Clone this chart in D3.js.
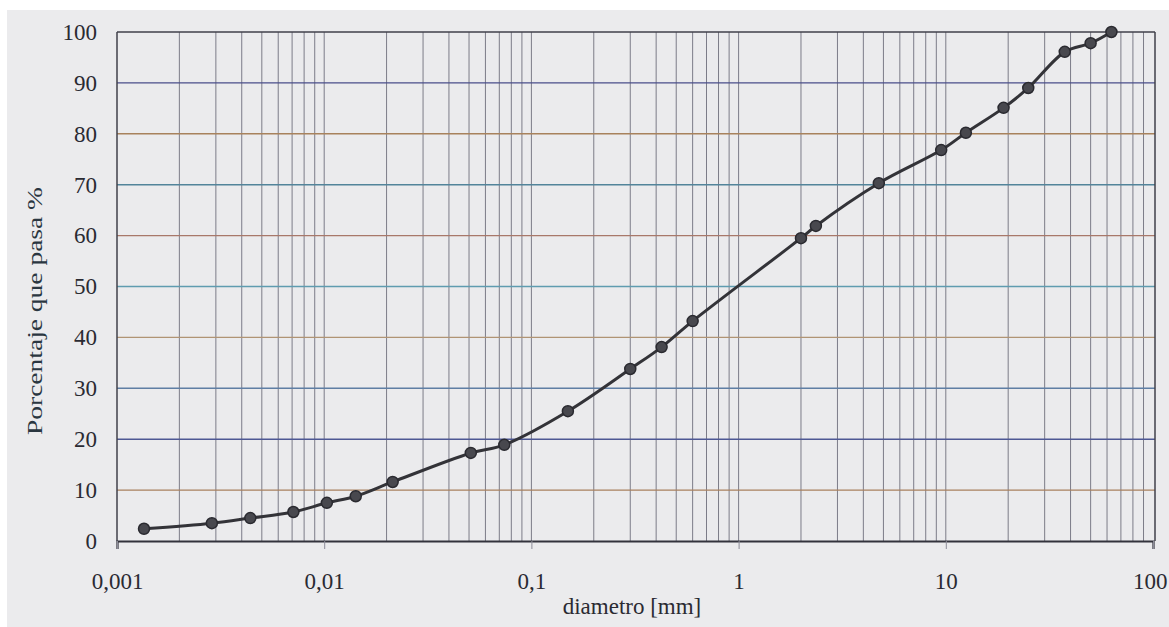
<!DOCTYPE html>
<html>
<head>
<meta charset="utf-8">
<script src="https://cdn.jsdelivr.net/npm/d3@7"></script>
<style>
  html, body { margin: 0; padding: 0; background: #ffffff; }
  svg { display: block; }
</style>
</head>
<body>
<svg id="chart" width="1169" height="627"></svg>
<script>
// ---- data ----
const diameters = [0.00135, 0.00287, 0.0044, 0.0071, 0.0103, 0.0142, 0.0214, 0.051, 0.074, 0.15, 0.3, 0.425, 0.6, 2.0, 2.36, 4.75, 9.5, 12.5, 19, 25, 37.5, 50, 63];
const percentPassing = [2.4, 3.5, 4.5, 5.7, 7.5, 8.8, 11.6, 17.3, 18.9, 25.5, 33.8, 38.1, 43.2, 59.5, 61.9, 70.3, 76.8, 80.2, 85.1, 89.0, 96.1, 97.8, 100];
const xTicks = [0.001, 0.01, 0.1, 1, 10, 100];
const xTickLabels = ["0,001", "0,01", "0,1", "1", "10", "100"];
const yTicks = [0, 10, 20, 30, 40, 50, 60, 70, 80, 90, 100];
const gridColors = ["#3a3a44", "#a8805e", "#4e5894", "#5f7ea4", "#b09474", "#5f9cb0", "#a8786a", "#52849a", "#a8825c", "#4a4e8a", "#3c3c48"];
const xTitle = "diametro [mm]";
const yTitle = "Porcentaje que pasa %";

// ---- layout ----
const svg = d3.select("#chart");
const W = 1169, H = 627;
const plot = { left: 117, right: 1155, top: 32, bottom: 541 };
const serif = "Liberation Serif, Times New Roman, serif";

svg.append("rect").attr("x", 0).attr("y", 0).attr("width", W).attr("height", H).attr("fill", "#ffffff");
svg.append("rect").attr("x", 7).attr("y", 10).attr("width", W - 7).attr("height", H - 10).attr("fill", "#ebebed");

const x = d3.scaleLog().domain([0.001, 100]).range([plot.left, 1153]);
const y = d3.scaleLinear().domain([0, 100]).range([plot.bottom, plot.top]);

// vertical grid (minor + major)
const minor = [];
for (let e = -3; e < 2; e++) {
  for (let m = 1; m <= 9; m++) {
    const v = m * Math.pow(10, e);
    if (v > 0.001) minor.push(v);
  }
}
svg.append("g").selectAll("line").data(minor).join("line")
  .attr("x1", d => x(d)).attr("x2", d => x(d))
  .attr("y1", plot.top).attr("y2", plot.bottom)
  .attr("stroke", "#7c7c88").attr("stroke-width", 1);

// horizontal grid
svg.append("g").selectAll("line").data(yTicks.filter(d => d > 0 && d < 100)).join("line")
  .attr("x1", plot.left).attr("x2", plot.right)
  .attr("y1", d => y(d)).attr("y2", d => y(d))
  .attr("stroke", (d, i) => gridColors[i + 1]).attr("stroke-width", 1.4);

// frame
svg.append("line").attr("x1", plot.left).attr("x2", plot.right).attr("y1", plot.top).attr("y2", plot.top)
  .attr("stroke", "#40404a").attr("stroke-width", 1.5);
svg.append("line").attr("x1", plot.right).attr("x2", plot.right).attr("y1", plot.top).attr("y2", plot.bottom)
  .attr("stroke", "#40404a").attr("stroke-width", 1.5);
svg.append("line").attr("x1", plot.left).attr("x2", plot.left).attr("y1", plot.top).attr("y2", plot.bottom)
  .attr("stroke", "#40404a").attr("stroke-width", 1.5);

// x axis
const xAxis = d3.axisBottom(x).tickValues(xTicks).tickFormat((d, i) => xTickLabels[i]).tickSize(8).tickPadding(24);
const gx = svg.append("g").attr("transform", `translate(0,${plot.bottom})`).call(xAxis);
gx.select(".domain").attr("stroke", "#33333c").attr("stroke-width", 2.2);
gx.selectAll(".tick line").attr("stroke", "#8c8c98").attr("stroke-width", 1);
gx.selectAll(".tick text").attr("font-family", serif)
  .attr("font-size", 23).attr("fill", "#2a2a32");
// keep the last label inside the page edge
gx.selectAll(".tick text").filter(d => d === 100).attr("text-anchor", "end").attr("dx", 14);

// y axis
const yAxis = d3.axisLeft(y).tickValues(yTicks).tickSize(0).tickPadding(20);
const gy = svg.append("g").attr("transform", `translate(${plot.left},0)`).call(yAxis);
gy.select(".domain").remove();
gy.selectAll(".tick text").attr("font-family", serif)
  .attr("font-size", 23).attr("fill", "#2a2a32");

// titles
svg.append("text").attr("x", 632).attr("y", 614).attr("text-anchor", "middle")
  .attr("font-family", serif).attr("font-size", 23)
  .attr("fill", "#2a2a32").text(xTitle);
svg.append("text").attr("transform", "translate(42,311) rotate(-90)").attr("text-anchor", "middle")
  .attr("font-family", serif).attr("font-size", 22)
  .attr("textLength", 248).attr("lengthAdjust", "spacingAndGlyphs")
  .attr("fill", "#2a3640").text(yTitle);

// curve
const pts = diameters.map((d, i) => [d, percentPassing[i]]);
const line = d3.line().x(d => x(d[0])).y(d => y(d[1])).curve(d3.curveCatmullRom.alpha(0.5));
svg.append("path").datum(pts).attr("d", line).attr("fill", "none")
  .attr("stroke", "#333338").attr("stroke-width", 3);

svg.append("g").selectAll("circle").data(pts).join("circle")
  .attr("cx", d => x(d[0])).attr("cy", d => y(d[1])).attr("r", 5.5)
  .attr("fill", "#48484e").attr("stroke", "#2a2a30").attr("stroke-width", 1.5);
</script>
</body>
</html>
